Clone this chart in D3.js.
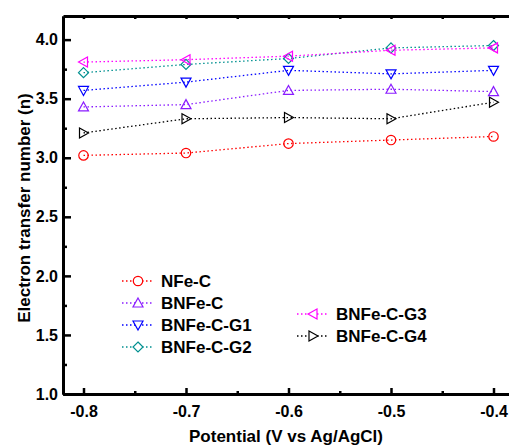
<!DOCTYPE html>
<html>
<head>
<meta charset="utf-8">
<script src="https://cdn.jsdelivr.net/npm/d3@7"></script>
<style>
  body { margin: 0; background: #fff; }
  svg text { font-family: Arial, "Liberation Sans", sans-serif; font-weight: bold; }
</style>
</head>
<body>
<svg id="chart" width="509" height="448"></svg>
<script>
const potentials = [-0.8, -0.7, -0.6, -0.5, -0.4];
const seriesNames = ["NFe-C", "BNFe-C", "BNFe-C-G1", "BNFe-C-G2", "BNFe-C-G3", "BNFe-C-G4"];
const nfeC = [3.02, 3.04, 3.12, 3.15, 3.18];
const bnfeC = [3.43, 3.45, 3.57, 3.58, 3.56];
const bnfeCG1 = [3.57, 3.64, 3.74, 3.71, 3.74];
const bnfeCG2 = [3.72, 3.79, 3.84, 3.93, 3.95];
const bnfeCG3 = [3.81, 3.83, 3.86, 3.91, 3.93];
const bnfeCG4 = [3.21, 3.33, 3.34, 3.33, 3.47];
const xTicks = [-0.8, -0.7, -0.6, -0.5, -0.4];
const yTicks = [1.0, 1.5, 2.0, 2.5, 3.0, 3.5, 4.0];

const seriesValues = [nfeC, bnfeC, bnfeCG1, bnfeCG2, bnfeCG3, bnfeCG4];
const colors = ["#ff0000", "#8a1cff", "#0000ff", "#009090", "#ff00ff", "#000000"];
const shapes = ["circle", "up", "down", "diamond", "left", "right"];

const svg = d3.select("#chart");
const plotLeft = 63, plotRight = 514, plotTop = 16, plotBottom = 394;

const x = d3.scaleLinear().domain([-0.82, -0.38]).range([plotLeft, plotRight]);
const y = d3.scaleLinear().domain([1.0, 4.2]).range([plotBottom, plotTop]);

const fmt = (d) => d.toFixed(1);

const markerPath = (shape) => {
  const s = 5;
  if (shape === "up") return `M0,${-s}L${s},${s * 0.8}L${-s},${s * 0.8}Z`;
  if (shape === "down") return `M0,${s}L${s},${-s * 0.8}L${-s},${-s * 0.8}Z`;
  if (shape === "left") return `M${-s},0L${s * 0.8},${-s}L${s * 0.8},${s}Z`;
  if (shape === "right") return `M${s},0L${-s * 0.8},${-s}L${-s * 0.8},${s}Z`;
  if (shape === "diamond") return `M0,${-s}L${s},0L0,${s}L${-s},0Z`;
  return d3.symbol(d3.symbolCircle, 70)();
};

// series lines and markers
seriesValues.forEach((vals, i) => {
  const pts = potentials.map((p, j) => [p, vals[j]]);
  svg.append("path")
    .attr("d", d3.line().x(d => x(d[0])).y(d => y(d[1]))(pts))
    .attr("fill", "none")
    .attr("stroke", colors[i])
    .attr("stroke-width", 1.3)
    .attr("stroke-dasharray", "1.5,2.5");
  svg.selectAll(null)
    .data(pts)
    .enter()
    .append("path")
    .attr("transform", d => "translate(" + x(d[0]) + "," + y(d[1]) + ")")
    .attr("d", markerPath(shapes[i]))
    .attr("fill", "none")
    .attr("stroke", colors[i])
    .attr("stroke-width", 1.2);
});

// axes
const xAxis = svg.append("g").attr("transform", "translate(0," + plotBottom + ")")
  .call(d3.axisBottom(x).tickValues(xTicks).tickFormat(fmt).tickSizeInner(-6).tickSizeOuter(0).tickPadding(11));
const xMinor = svg.append("g").attr("transform", "translate(0," + plotBottom + ")")
  .call(d3.axisBottom(x).tickValues([-0.75, -0.65, -0.55, -0.45]).tickFormat("").tickSizeInner(-3).tickSizeOuter(0));
const yAxis = svg.append("g").attr("transform", "translate(" + plotLeft + ",0)")
  .call(d3.axisLeft(y).tickValues(yTicks).tickFormat(fmt).tickSizeInner(-8).tickSizeOuter(0).tickPadding(5));
const yMinor = svg.append("g").attr("transform", "translate(" + plotLeft + ",0)")
  .call(d3.axisLeft(y).tickValues([1.25, 1.75, 2.25, 2.75, 3.25, 3.75]).tickFormat("").tickSizeInner(-4).tickSizeOuter(0));
const topAxis = svg.append("g").attr("transform", "translate(0," + plotTop + ")")
  .call(d3.axisTop(x).tickValues(xTicks.concat([-0.75, -0.65, -0.55, -0.45])).tickFormat("").tickSizeInner(-3).tickSizeOuter(0));

[xAxis, xMinor, yAxis, yMinor, topAxis].forEach(g => {
  g.select(".domain").attr("stroke", "#000").attr("stroke-width", 3);
  g.selectAll(".tick line").attr("stroke", "#000").attr("stroke-width", 2.5);
  g.selectAll(".tick text").attr("fill", "#000").style("font-size", "16px");
});
xAxis.selectAll(".tick text").attr("dy", "0.75em");

// axis titles
svg.append("text")
  .attr("x", 286).attr("y", 442)
  .attr("text-anchor", "middle")
  .style("font-size", "17px")
  .text("Potential (V vs Ag/AgCl)");
svg.append("text")
  .attr("transform", "translate(30,208) rotate(-90)")
  .attr("text-anchor", "middle")
  .style("font-size", "17px")
  .text("Electron transfer number (n)");

// legend
const legendPos = [[138, 281], [138, 303], [138, 325], [138, 347], [313, 314], [313, 336]];
seriesNames.forEach((name, i) => {
  const [lx, ly] = legendPos[i];
  const g = svg.append("g").attr("transform", "translate(" + lx + "," + ly + ")");
  g.append("line")
    .attr("x1", -16).attr("x2", 16)
    .attr("stroke", colors[i])
    .attr("stroke-width", 1.3)
    .attr("stroke-dasharray", "1.5,2.5");
  g.append("path")
    .attr("d", markerPath(shapes[i]))
    .attr("fill", "#fff")
    .attr("stroke", colors[i])
    .attr("stroke-width", 1.2);
  g.append("text")
    .attr("x", 23).attr("dy", "0.36em")
    .style("font-size", "17px")
    .text(name);
});
</script>
</body>
</html>
